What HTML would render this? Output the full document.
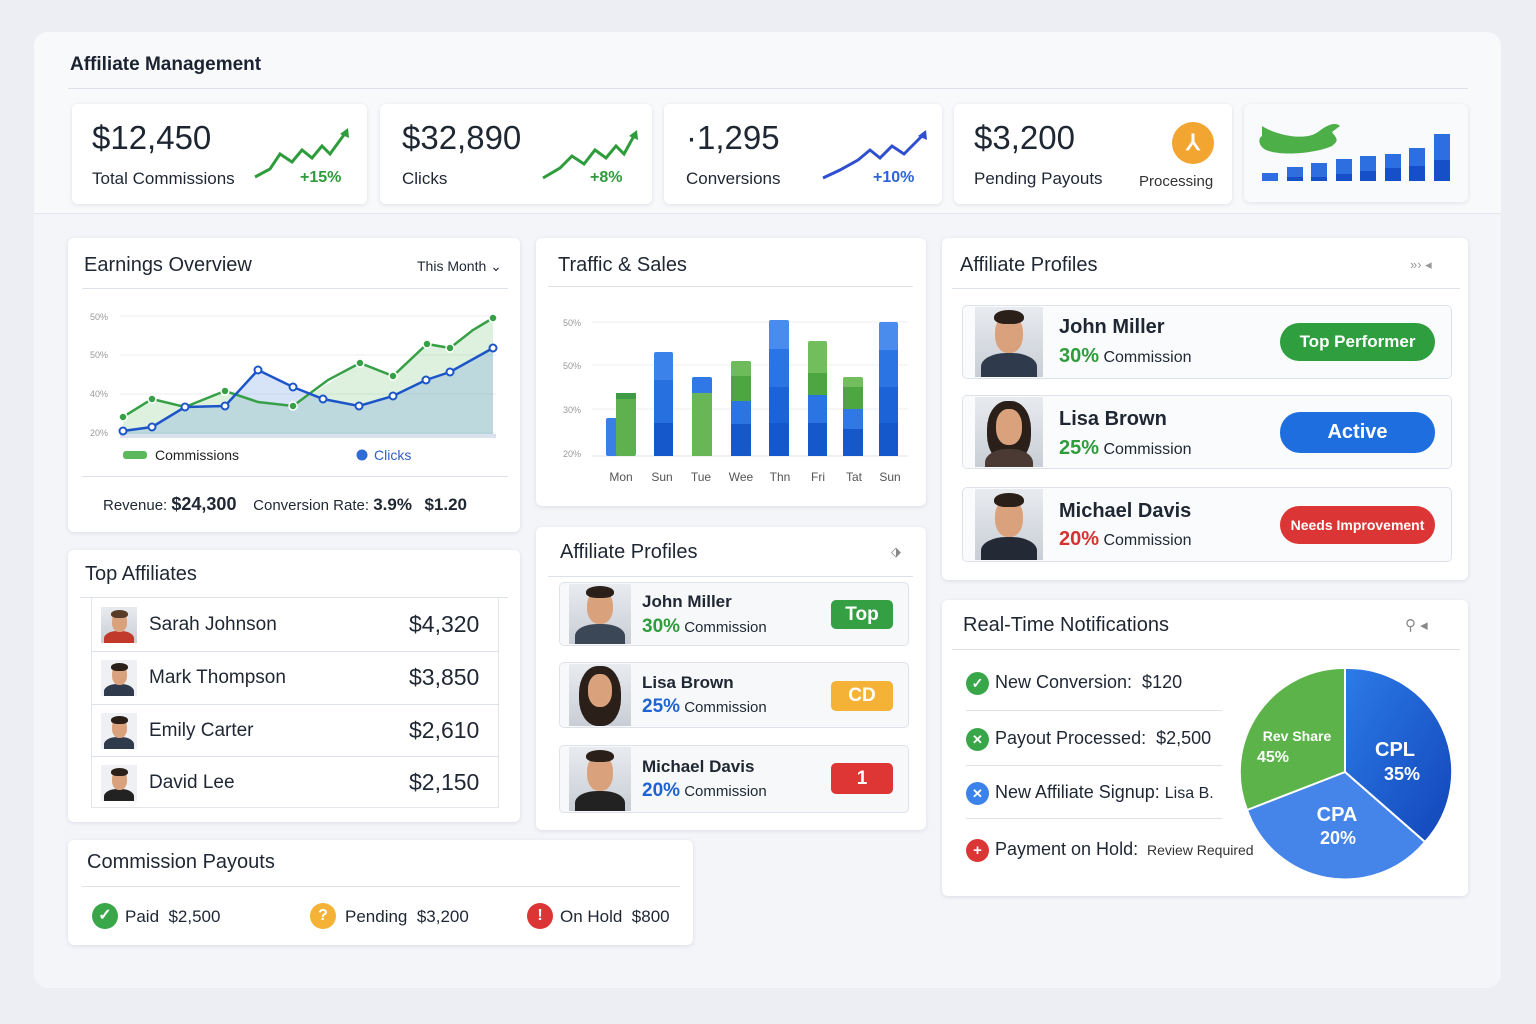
<!DOCTYPE html>
<html><head><meta charset="utf-8"><style>
*{box-sizing:border-box;margin:0;padding:0}
body{width:1536px;height:1024px;background:#eceef4;font-family:"Liberation Sans",sans-serif;color:#1f2733;position:relative;overflow:hidden}
.a{position:absolute}
.card{position:absolute;background:#fff;border-radius:6px;box-shadow:0 1px 4px rgba(40,50,80,.12)}
.t{position:absolute;white-space:nowrap}
.hl{position:absolute;height:1px;background:#dde1e8}
.av{position:absolute;overflow:hidden;background:linear-gradient(#e8ebef,#c9ced6)}
.av .hair{position:absolute;border-radius:50% 50% 40% 40%;background:#2b2019}
.av .face{position:absolute;border-radius:45%;background:#d9a27c}
.av .body{position:absolute;border-radius:45% 45% 0 0;background:#2f3a4c}
.pill{position:absolute;color:#fff;font-weight:bold;text-align:center;border-radius:14px}
.ic{position:absolute;border-radius:50%;color:#fff;font-weight:bold;text-align:center}
</style></head><body>
<div class="a" style="left:34px;top:32px;width:1467px;height:956px;background:#f4f5f9;border-radius:14px"></div>
<div class="a" style="left:34px;top:32px;width:1467px;height:182px;background:#f8f9fb;border-radius:14px 14px 0 0;border-bottom:1px solid #e3e6ec"></div>
<div class="t" style="left:70px;top:54px;font-size:19px;font-weight:bold;color:#1b2230">Affiliate Management</div>
<div class="hl" style="left:68px;top:88px;width:1400px"></div>

<!-- KPI cards -->
<div class="card" style="left:72px;top:104px;width:295px;height:100px"></div>
<div class="t" style="left:92px;top:119px;font-size:33px;color:#1d2533">$12,450</div>
<div class="t" style="left:92px;top:169px;font-size:17px">Total Commissions</div>
<svg class="a" style="left:250px;top:124px" width="104" height="60"><polyline points="5,53 20,45 30,30 42,38 52,26 62,34 72,22 80,30 96,8" fill="none" stroke="#2e9c3b" stroke-width="3"/><polygon points="98,4 90,10 99,14" fill="#2e9c3b"/></svg>
<div class="t" style="left:300px;top:169px;font-size:16px;color:#2e9c3b;font-weight:bold">+15%</div>

<div class="card" style="left:380px;top:104px;width:272px;height:100px"></div>
<div class="t" style="left:402px;top:119px;font-size:33px">$32,890</div>
<div class="t" style="left:402px;top:169px;font-size:17px">Clicks</div>
<svg class="a" style="left:540px;top:126px" width="100" height="58"><polyline points="3,52 20,42 32,30 44,38 55,24 66,32 76,20 84,28 95,8" fill="none" stroke="#2e9c3b" stroke-width="3"/><polygon points="97,4 89,10 98,14" fill="#2e9c3b"/></svg>
<div class="t" style="left:590px;top:169px;font-size:16px;color:#2e9c3b;font-weight:bold">+8%</div>

<div class="card" style="left:664px;top:104px;width:278px;height:100px"></div>
<div class="t" style="left:686px;top:119px;font-size:33px">&#183;1,295</div>
<div class="t" style="left:686px;top:169px;font-size:17px">Conversions</div>
<svg class="a" style="left:820px;top:126px" width="110" height="58"><polyline points="3,52 20,44 38,34 50,24 60,32 72,20 84,28 104,8" fill="none" stroke="#2f4fd0" stroke-width="3"/><polygon points="106,4 98,10 107,14" fill="#2f4fd0"/></svg>
<div class="t" style="left:873px;top:169px;font-size:16px;color:#2f62d6;font-weight:bold">+10%</div>

<div class="card" style="left:954px;top:104px;width:278px;height:100px"></div>
<div class="t" style="left:974px;top:119px;font-size:33px">$3,200</div>
<div class="t" style="left:974px;top:169px;font-size:17px">Pending Payouts</div>
<div class="ic" style="left:1172px;top:122px;width:42px;height:42px;background:#f2a531;font-size:22px;line-height:42px">⅄</div>
<div class="t" style="left:1139px;top:173px;font-size:15px;color:#333">Processing</div>

<div class="card" style="left:1244px;top:104px;width:224px;height:98px;background:#f9fafc"></div>
<svg class="a" style="left:1244px;top:104px" width="224" height="98">
<path d="M18,22 C30,30 60,38 74,28 C84,20 92,18 96,22 L88,28 C92,34 96,36 88,42 C70,50 36,52 22,46 C14,42 14,34 18,32 Z" fill="#4caf48"/>
<g fill="#2d6fe0"><rect x="18" y="69" width="16" height="8"/><rect x="43" y="63" width="16" height="14"/><rect x="67" y="59" width="16" height="18"/><rect x="92" y="55" width="16" height="22"/><rect x="116" y="52" width="16" height="25"/><rect x="141" y="50" width="16" height="27"/><rect x="165" y="44" width="16" height="33"/><rect x="190" y="30" width="16" height="47"/></g>
<g fill="#1550c8"><rect x="43" y="73" width="16" height="4"/><rect x="67" y="73" width="16" height="4"/><rect x="92" y="70" width="16" height="7"/><rect x="116" y="67" width="16" height="10"/><rect x="141" y="64" width="16" height="13"/><rect x="165" y="62" width="16" height="15"/><rect x="190" y="56" width="16" height="21"/></g>
</svg>

<!-- Earnings Overview -->
<div class="card" style="left:68px;top:238px;width:452px;height:294px"></div>
<div class="t" style="left:84px;top:254px;font-size:20px">Earnings Overview</div>
<div class="t" style="left:417px;top:258px;font-size:14px">This Month ⌄</div>
<div class="hl" style="left:82px;top:288px;width:426px"></div>
<svg class="a" style="left:68px;top:290px" width="452" height="190">
<g font-size="9" fill="#999" font-family="Liberation Sans"><text x="22" y="30">50%</text><text x="22" y="68">50%</text><text x="22" y="107">40%</text><text x="22" y="146">20%</text></g>
<g stroke="#eceef2"><line x1="52" y1="26" x2="428" y2="26"/><line x1="52" y1="65" x2="428" y2="65"/><line x1="52" y1="104" x2="428" y2="104"/><line x1="52" y1="143" x2="428" y2="143"/></g>
<polygon points="55,127 84,109 117,117 157,101 190,112 225,116 292,73 325,86 359,54 382,58 425,28 425,148 55,148" fill="#5cb85c" opacity=".2"/>
<polygon points="55,141 84,137 117,117 157,116 190,80 225,97 255,109 291,116 325,106 358,90 382,82 425,58 425,148 55,148" fill="#4a86e0" opacity=".22"/>
<line x1="52" y1="146" x2="428" y2="146" stroke="#dbe2ee" stroke-width="4"/>
<polyline points="55,127 84,109 117,117 157,101 190,112 225,116 260,90 292,73 325,86 359,54 382,58 405,40 425,28" fill="none" stroke="#36a046" stroke-width="2.5"/>
<polyline points="55,141 84,137 117,117 157,116 190,80 225,97 255,109 291,116 325,106 358,90 382,82 425,58" fill="none" stroke="#1c55c8" stroke-width="2.5"/>
<g fill="#36a046" stroke="#fff" stroke-width="1.5"><circle cx="55" cy="127" r="4"/><circle cx="84" cy="109" r="4"/><circle cx="157" cy="101" r="4"/><circle cx="225" cy="116" r="4"/><circle cx="292" cy="73" r="4"/><circle cx="325" cy="86" r="4"/><circle cx="359" cy="54" r="4"/><circle cx="382" cy="58" r="4"/><circle cx="425" cy="28" r="4"/></g>
<g fill="#fff" stroke="#1c55c8" stroke-width="2"><circle cx="55" cy="141" r="3.5"/><circle cx="84" cy="137" r="3.5"/><circle cx="117" cy="117" r="3.5"/><circle cx="157" cy="116" r="3.5"/><circle cx="190" cy="80" r="3.5"/><circle cx="225" cy="97" r="3.5"/><circle cx="255" cy="109" r="3.5"/><circle cx="291" cy="116" r="3.5"/><circle cx="325" cy="106" r="3.5"/><circle cx="358" cy="90" r="3.5"/><circle cx="382" cy="82" r="3.5"/><circle cx="425" cy="58" r="3.5"/></g>
<rect x="55" y="161" width="24" height="8" rx="3" fill="#5cb85c"/>
<text x="87" y="170" font-size="14" fill="#222" font-family="Liberation Sans">Commissions</text>
<circle cx="294" cy="165" r="5.5" fill="#2f6bd4"/>
<text x="306" y="170" font-size="14" fill="#2f5fc4" font-family="Liberation Sans">Clicks</text>
</svg>
<div class="hl" style="left:82px;top:476px;width:426px"></div>
<div class="t" style="left:103px;top:494px;font-size:15px">Revenue: <b style="font-size:18px">$24,300</b> &nbsp;&nbsp; Conversion Rate: <b style="font-size:17px">3.9%</b> &nbsp; <b style="font-size:17px">$1.20</b></div>

<!-- Traffic & Sales -->
<div class="card" style="left:536px;top:238px;width:390px;height:268px"></div>
<div class="t" style="left:558px;top:254px;font-size:20px">Traffic &amp; Sales</div>
<div class="hl" style="left:548px;top:286px;width:365px"></div>
<svg class="a" style="left:536px;top:300px" width="390" height="190">
<g font-size="9" fill="#999" font-family="Liberation Sans"><text x="27" y="26">50%</text><text x="27" y="69">50%</text><text x="27" y="113">30%</text><text x="27" y="157">20%</text></g>
<g stroke="#eceef2"><line x1="56" y1="22" x2="372" y2="22"/><line x1="56" y1="65" x2="372" y2="65"/><line x1="56" y1="109" x2="372" y2="109"/></g>
<line x1="56" y1="156" x2="372" y2="156" stroke="#dde1e8"/>
<g>
<rect x="70" y="118" width="18" height="38" fill="#3a7fe6" rx="2"/>
<rect x="80" y="93" width="20" height="63" fill="#5fb14f" rx="2"/><rect x="80" y="93" width="20" height="6" fill="#3f9a45"/>
<rect x="118" y="52" width="19" height="104" fill="#3b82ea" rx="2"/><rect x="118" y="80" width="19" height="43" fill="#2670e0"/><rect x="118" y="123" width="19" height="33" fill="#1558cc"/>
<rect x="156" y="77" width="20" height="79" fill="#2f78e6" rx="2"/><rect x="156" y="93" width="20" height="63" fill="#69b657"/>
<rect x="195" y="61" width="20" height="95" fill="#6dbb5a" rx="2"/><rect x="195" y="76" width="20" height="25" fill="#4ea643"/><rect x="195" y="101" width="20" height="23" fill="#2a74e4"/><rect x="195" y="124" width="20" height="32" fill="#1558cc"/>
<rect x="233" y="20" width="20" height="136" fill="#4a8ced" rx="2"/><rect x="233" y="49" width="20" height="38" fill="#2a74e4"/><rect x="233" y="87" width="20" height="36" fill="#1d63d8"/><rect x="233" y="123" width="20" height="33" fill="#1558cc"/>
<rect x="272" y="41" width="19" height="115" fill="#72bd5c" rx="2"/><rect x="272" y="73" width="19" height="22" fill="#4ea643"/><rect x="272" y="95" width="19" height="28" fill="#2a74e4"/><rect x="272" y="123" width="19" height="33" fill="#1558cc"/>
<rect x="307" y="77" width="20" height="79" fill="#72bd5c" rx="2"/><rect x="307" y="87" width="20" height="22" fill="#4ea643"/><rect x="307" y="109" width="20" height="20" fill="#2f78e6"/><rect x="307" y="129" width="20" height="27" fill="#1558cc"/>
<rect x="343" y="22" width="19" height="134" fill="#4a8ced" rx="2"/><rect x="343" y="50" width="19" height="37" fill="#2a74e4"/><rect x="343" y="87" width="19" height="36" fill="#1d63d8"/><rect x="343" y="123" width="19" height="33" fill="#1558cc"/>
</g>
<g font-size="12" fill="#555" font-family="Liberation Sans" text-anchor="middle"><text x="85" y="181">Mon</text><text x="126" y="181">Sun</text><text x="165" y="181">Tue</text><text x="205" y="181">Wee</text><text x="244" y="181">Thn</text><text x="282" y="181">Fri</text><text x="318" y="181">Tat</text><text x="354" y="181">Sun</text></g>
</svg>

<!-- Affiliate Profiles right -->
<div class="card" style="left:942px;top:238px;width:526px;height:342px"></div>
<div class="t" style="left:960px;top:254px;font-size:20px">Affiliate Profiles</div>
<div class="t" style="left:1410px;top:257px;font-size:13px;color:#999">»› ◂</div>
<div class="hl" style="left:952px;top:288px;width:508px"></div>

<div class="a" style="left:962px;top:305px;width:490px;height:74px;border:1px solid #dfe2e8;border-radius:5px;background:#fafbfc"></div>
<div class="av" style="left:975px;top:307px;width:68px;height:70px"><div class="body" style="left:6px;top:46px;width:56px;height:30px"></div><div class="face" style="left:20px;top:8px;width:28px;height:38px"></div><div class="hair" style="left:19px;top:3px;width:30px;height:14px"></div></div>
<div class="t" style="left:1059px;top:316px;font-size:20px;font-weight:bold">John Miller</div>
<div class="t" style="left:1059px;top:345px;font-size:16px"><b style="color:#2e9c3b;font-size:20px">30%</b> Commission</div>
<div class="pill" style="left:1280px;top:323px;width:155px;height:38px;line-height:38px;background:#2e9e3e;font-size:17px;border-radius:19px">Top Performer</div>

<div class="a" style="left:962px;top:395px;width:490px;height:74px;border:1px solid #dfe2e8;border-radius:5px;background:#fafbfc"></div>
<div class="av" style="left:975px;top:397px;width:68px;height:70px"><div class="hair" style="left:12px;top:4px;width:44px;height:62px;border-radius:45%"></div><div class="body" style="left:10px;top:52px;width:48px;height:30px;background:#4a3a33"></div><div class="face" style="left:21px;top:12px;width:26px;height:36px"></div></div>
<div class="t" style="left:1059px;top:408px;font-size:20px;font-weight:bold">Lisa Brown</div>
<div class="t" style="left:1059px;top:437px;font-size:16px"><b style="color:#2e9c3b;font-size:20px">25%</b> Commission</div>
<div class="pill" style="left:1280px;top:412px;width:155px;height:41px;line-height:41px;background:#1f6ee0;font-size:20px;border-radius:20px">Active</div>

<div class="a" style="left:962px;top:487px;width:490px;height:75px;border:1px solid #dfe2e8;border-radius:5px;background:#fafbfc"></div>
<div class="av" style="left:975px;top:489px;width:68px;height:71px"><div class="body" style="left:6px;top:48px;width:56px;height:30px;background:#232a36"></div><div class="face" style="left:20px;top:10px;width:28px;height:38px"></div><div class="hair" style="left:19px;top:4px;width:30px;height:14px"></div></div>
<div class="t" style="left:1059px;top:500px;font-size:20px;font-weight:bold">Michael Davis</div>
<div class="t" style="left:1059px;top:528px;font-size:16px"><b style="color:#d63232;font-size:20px">20%</b> Commission</div>
<div class="pill" style="left:1280px;top:506px;width:155px;height:38px;line-height:38px;background:#dc3535;font-size:14px;border-radius:19px">Needs Improvement</div>

<!-- Top Affiliates -->
<div class="card" style="left:68px;top:550px;width:452px;height:272px"></div>
<div class="t" style="left:85px;top:563px;font-size:20px">Top Affiliates</div>
<div class="hl" style="left:80px;top:597px;width:428px"></div>
<div class="a" style="left:91px;top:598px;width:408px;height:210px;border:1px solid #e3e6ea;border-top:none"></div>
<div class="hl" style="left:91px;top:651px;width:408px"></div>
<div class="hl" style="left:91px;top:704px;width:408px"></div>
<div class="hl" style="left:91px;top:756px;width:408px"></div>
<div class="av" style="left:101px;top:607px;width:36px;height:36px"><div class="body" style="left:3px;top:24px;width:30px;height:16px;background:#c0392b"></div><div class="face" style="left:11px;top:5px;width:15px;height:20px"></div><div class="hair" style="left:10px;top:3px;width:17px;height:8px;background:#5a3b28"></div></div>
<div class="av" style="left:101px;top:660px;width:36px;height:36px;background:#eef0f3"><div class="body" style="left:3px;top:24px;width:30px;height:16px"></div><div class="face" style="left:11px;top:5px;width:15px;height:20px"></div><div class="hair" style="left:10px;top:3px;width:17px;height:8px"></div></div>
<div class="av" style="left:101px;top:713px;width:36px;height:36px;background:#eef0f3"><div class="body" style="left:3px;top:24px;width:30px;height:16px"></div><div class="face" style="left:11px;top:5px;width:15px;height:20px"></div><div class="hair" style="left:10px;top:3px;width:17px;height:8px"></div></div>
<div class="av" style="left:101px;top:765px;width:36px;height:36px;background:#eef0f3"><div class="body" style="left:3px;top:24px;width:30px;height:16px;background:#222"></div><div class="face" style="left:11px;top:5px;width:15px;height:20px"></div><div class="hair" style="left:10px;top:3px;width:17px;height:8px"></div></div>
<div class="t" style="left:149px;top:614px;font-size:19px">Sarah Johnson</div><div class="t" style="left:409px;top:611px;font-size:23px">$4,320</div>
<div class="t" style="left:149px;top:667px;font-size:19px">Mark Thompson</div><div class="t" style="left:409px;top:664px;font-size:23px">$3,850</div>
<div class="t" style="left:149px;top:720px;font-size:19px">Emily Carter</div><div class="t" style="left:409px;top:717px;font-size:23px">$2,610</div>
<div class="t" style="left:149px;top:772px;font-size:19px">David Lee</div><div class="t" style="left:409px;top:769px;font-size:23px">$2,150</div>

<!-- Affiliate Profiles middle -->
<div class="card" style="left:536px;top:527px;width:390px;height:303px"></div>
<div class="t" style="left:560px;top:541px;font-size:20px">Affiliate Profiles</div>
<div class="t" style="left:891px;top:544px;font-size:13px;color:#888">⬗</div>
<div class="hl" style="left:548px;top:576px;width:365px"></div>
<div class="a" style="left:559px;top:582px;width:350px;height:64px;border:1px solid #dfe2e8;border-radius:5px;background:#f7f8fa"></div>
<div class="av" style="left:569px;top:584px;width:62px;height:60px"><div class="body" style="left:6px;top:40px;width:50px;height:26px;background:#3b4656"></div><div class="face" style="left:18px;top:6px;width:26px;height:34px"></div><div class="hair" style="left:17px;top:2px;width:28px;height:12px"></div></div>
<div class="t" style="left:642px;top:592px;font-size:17px;font-weight:bold">John Miller</div>
<div class="t" style="left:642px;top:616px;font-size:15px"><b style="color:#2e9c3b;font-size:19px">30%</b> Commission</div>
<div class="pill" style="left:831px;top:600px;width:62px;height:29px;line-height:29px;background:#34a043;font-size:19px;border-radius:5px">Top</div>
<div class="a" style="left:559px;top:662px;width:350px;height:66px;border:1px solid #dfe2e8;border-radius:5px;background:#f7f8fa"></div>
<div class="av" style="left:569px;top:664px;width:62px;height:62px"><div class="hair" style="left:10px;top:2px;width:42px;height:60px;border-radius:45%"></div><div class="face" style="left:19px;top:10px;width:24px;height:33px"></div></div>
<div class="t" style="left:642px;top:673px;font-size:17px;font-weight:bold">Lisa Brown</div>
<div class="t" style="left:642px;top:696px;font-size:15px"><b style="color:#1f63d2;font-size:19px">25%</b> Commission</div>
<div class="pill" style="left:831px;top:681px;width:62px;height:30px;line-height:30px;background:#f4b236;font-size:19px;border-radius:5px">CD</div>
<div class="a" style="left:559px;top:745px;width:350px;height:68px;border:1px solid #dfe2e8;border-radius:5px;background:#f7f8fa"></div>
<div class="av" style="left:569px;top:747px;width:62px;height:64px"><div class="body" style="left:6px;top:44px;width:50px;height:26px;background:#222"></div><div class="face" style="left:18px;top:8px;width:26px;height:36px"></div><div class="hair" style="left:17px;top:3px;width:28px;height:12px"></div></div>
<div class="t" style="left:642px;top:757px;font-size:17px;font-weight:bold">Michael Davis</div>
<div class="t" style="left:642px;top:780px;font-size:15px"><b style="color:#1f63d2;font-size:19px">20%</b> Commission</div>
<div class="pill" style="left:831px;top:763px;width:62px;height:31px;line-height:31px;background:#de3535;font-size:19px;border-radius:5px">1</div>

<!-- Commission Payouts -->
<div class="card" style="left:68px;top:840px;width:625px;height:105px"></div>
<div class="t" style="left:87px;top:851px;font-size:20px">Commission Payouts</div>
<div class="hl" style="left:82px;top:886px;width:598px"></div>
<div class="ic" style="left:92px;top:903px;width:26px;height:26px;background:#3aa64a;font-size:16px;line-height:26px">✓</div>
<div class="t" style="left:125px;top:907px;font-size:17px">Paid&nbsp; $2,500</div>
<div class="ic" style="left:310px;top:903px;width:26px;height:26px;background:#f4b236;font-size:16px;line-height:26px">?</div>
<div class="t" style="left:345px;top:907px;font-size:17px">Pending&nbsp; $3,200</div>
<div class="ic" style="left:527px;top:903px;width:26px;height:26px;background:#dc3535;font-size:16px;line-height:26px">!</div>
<div class="t" style="left:560px;top:907px;font-size:17px">On Hold&nbsp; $800</div>

<!-- Notifications -->
<div class="card" style="left:942px;top:600px;width:526px;height:296px"></div>
<div class="t" style="left:963px;top:614px;font-size:20px">Real-Time Notifications</div>
<div class="t" style="left:1405px;top:616px;font-size:15px;color:#888">⚲ ◂</div>
<div class="hl" style="left:952px;top:649px;width:508px"></div>
<div class="ic" style="left:966px;top:672px;width:23px;height:23px;background:#3aa64a;font-size:14px;line-height:23px">✓</div>
<div class="t" style="left:995px;top:672px;font-size:18px">New Conversion:&nbsp; $120</div>
<div class="hl" style="left:966px;top:710px;width:256px"></div>
<div class="ic" style="left:966px;top:728px;width:23px;height:23px;background:#3aa64a;font-size:13px;line-height:23px">✕</div>
<div class="t" style="left:995px;top:728px;font-size:18px">Payout Processed:&nbsp; $2,500</div>
<div class="hl" style="left:966px;top:765px;width:256px"></div>
<div class="ic" style="left:966px;top:782px;width:23px;height:23px;background:#3b82ea;font-size:13px;line-height:23px">✕</div>
<div class="t" style="left:995px;top:782px;font-size:18px">New Affiliate Signup: <span style="font-size:16px">Lisa B.</span></div>
<div class="hl" style="left:966px;top:818px;width:256px"></div>
<div class="ic" style="left:966px;top:839px;width:23px;height:23px;background:#dc3535;font-size:15px;line-height:23px">+</div>
<div class="t" style="left:995px;top:839px;font-size:18px">Payment on Hold: <span style="font-size:14px;color:#333">&nbsp;Review Required</span></div>
<svg class="a" style="left:1235px;top:664px" width="222" height="216">
<defs><linearGradient id="g1" x1="0" y1="0" x2="1" y2="1"><stop offset="0" stop-color="#2c7be8"/><stop offset="1" stop-color="#1245b8"/></linearGradient></defs>
<g stroke="#fff" stroke-width="2">
<path d="M110,108 L110,4 A104,104 0 0 1 190,178 Z" fill="url(#g1)"/>
<path d="M110,108 L190,178 A104,104 0 0 1 12,146 Z" fill="#4584e8"/>
<path d="M110,108 L12,146 A104,104 0 0 1 110,4 Z" fill="#5cb34a"/>
</g>
<g fill="#fff" font-family="Liberation Sans" font-weight="bold" text-anchor="middle">
<text x="62" y="77" font-size="14">Rev Share</text><text x="38" y="98" font-size="16">45%</text>
<text x="160" y="92" font-size="20">CPL</text><text x="167" y="116" font-size="18">35%</text>
<text x="102" y="157" font-size="20">CPA</text><text x="103" y="180" font-size="18">20%</text>
</g></svg>
</body></html>
